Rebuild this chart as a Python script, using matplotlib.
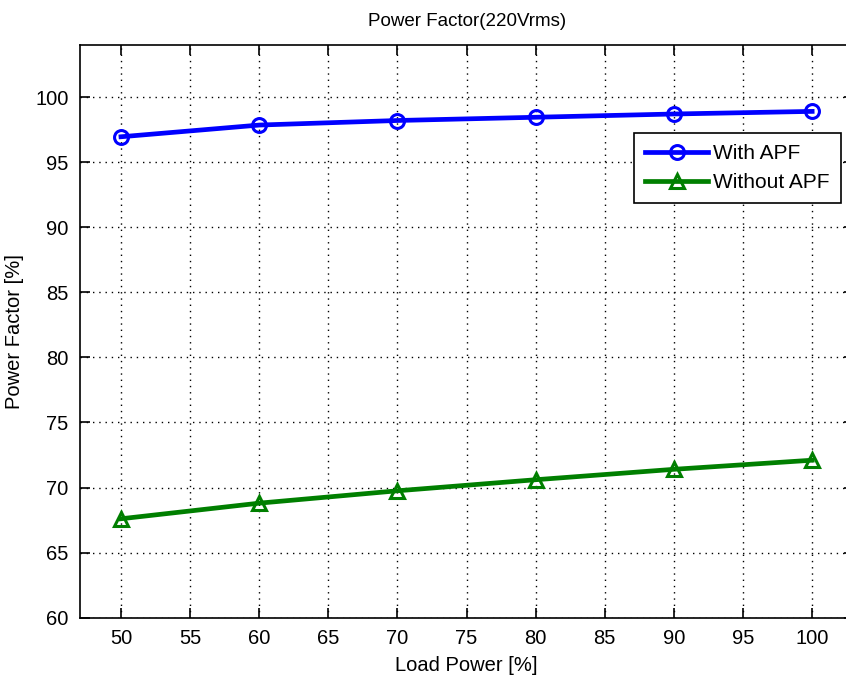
import numpy as np
import matplotlib.pyplot as plt

plt.rcParams['font.family'] = ['Liberation Sans', 'DejaVu Sans']

##### Data #####
load = [50, 60, 70, 80, 90, 100]                      # load power [%]
pf_apf = [96.95, 97.85, 98.2, 98.45, 98.7, 98.9]      # with APF
pf_noapf = [67.6, 68.8, 69.75, 70.6, 71.4, 72.1]      # without APF
xticks = np.arange(50, 101, 5)
yticks = np.arange(60, 101, 5)
################

fig = plt.figure(figsize=(8.46, 6.82), dpi=100)
ax = fig.add_axes([0.094, 0.0943, 0.915, 0.8397])

ax.plot(load, pf_apf, '-o', color='#0000ff', lw=3.4, ms=10, mfc='none', mew=2.2, label='With APF')
ax.plot(load, pf_noapf, '-^', color='#007f00', lw=3.4, ms=10, mfc='none', mew=2.2, label='Without APF')

ax.set_xlim(47, 103)
ax.set_ylim(60, 104)
ax.set_xticks(xticks)
ax.set_yticks(yticks)
ax.tick_params(direction='in', length=7, width=1.2, top=True, right=True, labelsize=14.5, pad=8)
ax.grid(True, linestyle=(0, (1, 3.5)), color='black', lw=1.0)
for s in ax.spines.values():
    s.set_linewidth(1.2)

ax.set_title('Power Factor(220Vrms)', fontsize=13.5, pad=14)
ax.set_xlabel('Load Power [%]', fontsize=14.5, labelpad=6)
ax.set_ylabel('Power Factor [%]', fontsize=14.5, labelpad=8)

leg = ax.legend(loc='upper right', bbox_to_anchor=(0.9839, 0.8463), fontsize=15,
                fancybox=False, framealpha=1, edgecolor='black', handlelength=3.0,
                borderpad=0.55, labelspacing=0.45, handletextpad=0.25, borderaxespad=0)
leg.get_frame().set_linewidth(1.2)

plt.savefig('out.png', dpi=100)
